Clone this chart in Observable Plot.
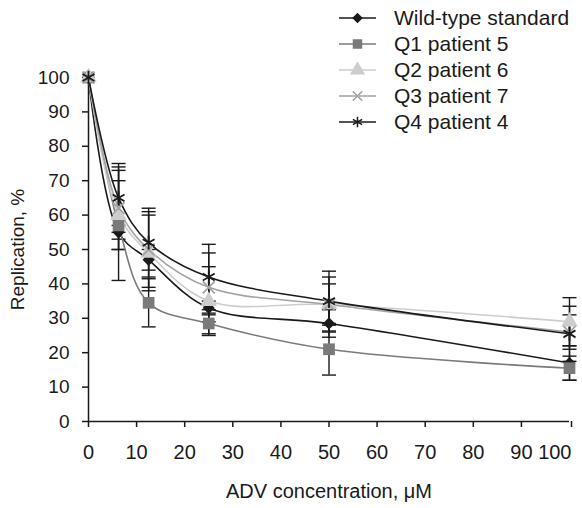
<!DOCTYPE html>
<html><head><meta charset="utf-8">
<script src="https://cdn.jsdelivr.net/npm/d3@7"></script>
<script src="https://cdn.jsdelivr.net/npm/@observablehq/plot@0.6"></script>
<style>
body{margin:0;background:#fff;font-family:"Liberation Sans",Arial,sans-serif;}
#wrap{position:relative;width:582px;height:508px;}
#legend{position:absolute;left:0;top:0;}
</style></head><body><div id="wrap"></div>
<script>
const concentrations = [0, 6.25, 12.5, 25, 50, 100];
const seriesNames = ["Wild-type standard", "Q1 patient 5", "Q2 patient 6", "Q3 patient 7", "Q4 patient 4"];
const wildType    = [100, 55, 47, 33, 28.5, 17];
const wildTypeErr = [0, 2, 3, 2, 4, 5];
const q1          = [100, 57, 34.5, 28.5, 21, 15.5];
const q1Err       = [0, 16, 7, 3, 7.5, 3.5];
const q2          = [100, 60, 49, 35, 34, 29];
const q2Err       = [0, 10, 11, 10, 6, 7];
const q3          = [100, 62, 50, 39, 34, 26];
const q3Err       = [0, 12, 11, 10, 8, 5];
const q4          = [100, 65, 52, 42, 35, 25.5];
const q4Err       = [0, 10, 10, 9.5, 8.7, 8];
const xTicks = [0, 10, 20, 30, 40, 50, 60, 70, 80, 90];
const xLastTick = [100];
const yTicks = [0, 10, 20, 30, 40, 50, 60, 70, 80, 90, 100];

const seriesColors = ["#1a1a1a", "#7a7a7a", "#cdcdcd", "#a3a3a3", "#1a1a1a"];
const symbolNames = ["diamond2", "square", "triangle", "times", "asterisk"];
const d3Symbols = [d3.symbolDiamond2, d3.symbolSquare, d3.symbolTriangle, d3.symbolTimes, d3.symbolAsterisk];
const filled = [true, true, true, false, false];
const dotR = [5.5, 6.6, 6.2, 5.5, 6.5];

const values = [wildType, q1, q2, q3, q4];
const errors = [wildTypeErr, q1Err, q2Err, q3Err, q4Err];
const rows = [];
seriesNames.forEach((s, i) => concentrations.forEach((c, j) =>
  rows.push({series: s, idx: i, x: c, y: values[i][j], err: errors[i][j]})));
const bars = rows.filter(d => d.err > 0);

const cap = {draw(ctx) { ctx.moveTo(-7, 0); ctx.lineTo(7, 0); }};
const ink = "#1a1a1a";

const marks = [
  Plot.ruleX(bars, {x: "x", y1: d => d.y - d.err, y2: d => d.y + d.err, stroke: ink, strokeWidth: 1.4}),
  Plot.dot(bars, {x: "x", y: d => d.y + d.err, symbol: cap, stroke: ink, strokeWidth: 1.4}),
  Plot.dot(bars, {x: "x", y: d => d.y - d.err, symbol: cap, stroke: ink, strokeWidth: 1.4}),
  Plot.ruleX([0], {y1: 0, y2: 100, stroke: ink, strokeWidth: 1.5}),
  Plot.ruleY([0], {stroke: ink, strokeWidth: 1.5}),
  Plot.axisX(xTicks, {tickSize: 6, tickPadding: 17, stroke: ink, strokeWidth: 1.5, fill: ink, fontSize: 20,
    label: "ADV concentration, μM", labelAnchor: "center", labelArrow: "none", labelOffset: 76}),
  Plot.axisX(xLastTick, {tickSize: 6, tickPadding: 17, stroke: ink, strokeWidth: 1.5, fill: ink, fontSize: 20,
    textAnchor: "end", dx: 2, label: null}),
  Plot.axisY(yTicks, {tickSize: 6, tickPadding: 13, stroke: ink, strokeWidth: 1.5, fill: ink, fontSize: 19,
    label: "Replication, %", labelAnchor: "center", labelArrow: "none", labelOffset: 78})
];
seriesNames.forEach((s, i) => {
  const data = rows.filter(d => d.idx === i);
  marks.push(Plot.line(data, {x: "x", y: "y", stroke: seriesColors[i], strokeWidth: 1.6, curve: "catmull-rom"}));
});
seriesNames.forEach((s, i) => {
  const data = rows.filter(d => d.idx === i);
  marks.push(Plot.dot(data, filled[i]
    ? {x: "x", y: "y", symbol: symbolNames[i], r: dotR[i], fill: seriesColors[i], stroke: "none"}
    : {x: "x", y: "y", symbol: symbolNames[i], r: dotR[i], fill: "none", stroke: seriesColors[i], strokeWidth: 1.8}));
});

const chart = Plot.plot({
  width: 582, height: 508,
  marginTop: 77, marginBottom: 87, marginLeft: 88, marginRight: 13,
  style: {fontFamily: "'Liberation Sans', Arial, sans-serif", fontSize: "19px", color: ink, background: "#fff"},
  x: {domain: [0, 100], axis: null},
  y: {domain: [0, 100], axis: null},
  marks
});
document.getElementById("wrap").appendChild(chart);

// legend overlay
const leg = d3.select("#wrap").append("svg").attr("id", "legend")
  .attr("width", 582).attr("height", 140);
const legSizes = [70, 90, 100, 60, 80];
seriesNames.forEach((s, i) => {
  const g = leg.append("g").attr("transform", `translate(0,${18 + i * 26})`);
  g.append("line").attr("x1", 339).attr("x2", 376).attr("y1", 0).attr("y2", 0)
    .attr("stroke", seriesColors[i]).attr("stroke-width", 1.6);
  g.append("path").attr("transform", "translate(357.5,0)")
    .attr("d", d3.symbol(d3Symbols[i], legSizes[i])())
    .attr("fill", filled[i] ? seriesColors[i] : "none")
    .attr("stroke", filled[i] ? "none" : seriesColors[i]).attr("stroke-width", 1.5);
  g.append("text").attr("x", 394).attr("y", 0).attr("dy", "0.35em")
    .attr("font-size", 21).attr("fill", ink)
    .attr("font-family", "'Liberation Sans', Arial, sans-serif").text(s);
});
</script></body></html>
